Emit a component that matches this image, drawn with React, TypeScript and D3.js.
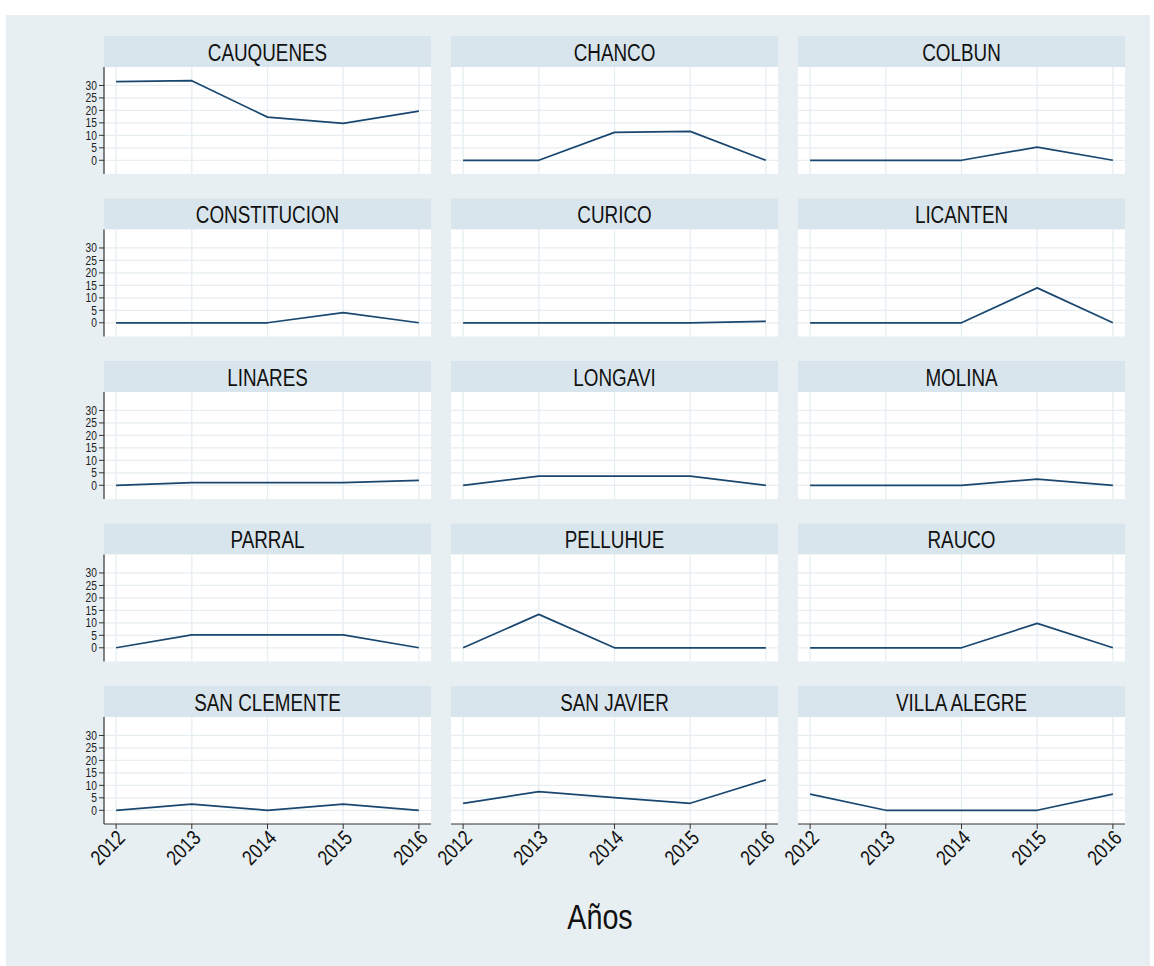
import React from "react";
import * as d3 from "d3";

const years = [2012, 2013, 2014, 2015, 2016];
const yTicks = [0, 5, 10, 15, 20, 25, 30];
const comunas = [
  "CAUQUENES", "CHANCO", "COLBUN",
  "CONSTITUCION", "CURICO", "LICANTEN",
  "LINARES", "LONGAVI", "MOLINA",
  "PARRAL", "PELLUHUE", "RAUCO",
  "SAN CLEMENTE", "SAN JAVIER", "VILLA ALEGRE",
];
const cauquenes = [31.5, 31.9, 17.3, 14.8, 19.7];
const chanco = [0, 0, 11.2, 11.6, 0];
const colbun = [0, 0, 0, 5.3, 0];
const constitucion = [0, 0, 0, 4.1, 0];
const curico = [0, 0, 0, 0, 0.6];
const licanten = [0, 0, 0, 14.0, 0];
const linares = [0, 1.1, 1.1, 1.1, 2.0];
const longavi = [0, 3.7, 3.7, 3.7, 0];
const molina = [0, 0, 0, 2.5, 0];
const parral = [0, 5.2, 5.2, 5.2, 0];
const pelluhue = [0, 13.4, 0, 0, 0];
const rauco = [0, 0, 0, 9.8, 0];
const sanClemente = [0, 2.5, 0, 2.5, 0];
const sanJavier = [2.8, 7.5, 5.1, 2.8, 12.2];
const villaAlegre = [6.5, 0, 0, 0, 6.5];
const seriesValues = [
  cauquenes, chanco, colbun,
  constitucion, curico, licanten,
  linares, longavi, molina,
  parral, pelluhue, rauco,
  sanClemente, sanJavier, villaAlegre,
];
const xTitle = "Años";

const W = 1154, H = 966;
const colX = [104, 451, 798];
const panelW = 327;
const rowTop0 = 36, rowPitch = 162.5, headH = 31, plotH = 107;
const FONT = "'Liberation Sans', Arial, sans-serif";
const NARROW = 0.82;
const BG = "#e8eff2";
const HEAD = "#d9e5ec";
const GRID = "#e6eef1";
const LINE = "#1a476f";

export default function App() {
  const panels = comunas.map((name, i) => {
    const c = i % 3, r = Math.floor(i / 3);
    const x0 = colX[c];
    const top = rowTop0 + rowPitch * r;
    const pTop = top + headH;
    const pBot = pTop + plotH;
    const x = d3.scaleLinear().domain([2011.84, 2016.16]).range([x0, x0 + panelW]);
    const y = d3.scaleLinear().domain([-5.5, 37.4]).range([pBot, pTop]);
    const line = d3.line<number>().x((_, j) => x(years[j])).y((v) => y(v));
    const vals = seriesValues[i];
    return (
      <g key={name}>
        <rect x={x0} y={top} width={panelW} height={headH} fill={HEAD} />
        <text transform={`translate(${x0 + panelW / 2},${top + 24.5}) scale(${NARROW},1)`} textAnchor="middle" fontSize={23} fontFamily={FONT} fill="#111">{name}</text>
        <rect x={x0} y={pTop} width={panelW} height={plotH} fill="#fff" />
        {yTicks.map((t) => (
          <line key={"h" + t} x1={x0} x2={x0 + panelW} y1={y(t)} y2={y(t)} stroke={GRID} strokeWidth={1.3} />
        ))}
        {years.map((yr) => (
          <line key={"v" + yr} x1={x(yr)} x2={x(yr)} y1={pTop} y2={pBot} stroke={GRID} strokeWidth={1.3} />
        ))}
        <path d={line(vals) || ""} fill="none" stroke={LINE} strokeWidth={1.7} strokeLinejoin="round" />
        {c === 0 && (
          <g>
            <line x1={x0} x2={x0} y1={pTop} y2={pBot} stroke="#333" strokeWidth={1.2} />
            {yTicks.map((t) => (
              <g key={"yt" + t}>
                <line x1={x0 - 5} x2={x0} y1={y(t)} y2={y(t)} stroke="#333" strokeWidth={1} />
                <text transform={`translate(${x0 - 7},${y(t)}) scale(${NARROW},1)`} dy="0.36em" textAnchor="end" fontSize={12.5} fontFamily={FONT} fill="#222">{t}</text>
              </g>
            ))}
          </g>
        )}
        {r === 4 && (
          <g>
            <line x1={x0} x2={x0 + panelW} y1={pBot} y2={pBot} stroke="#333" strokeWidth={1.2} />
            {years.map((yr) => (
              <g key={"xt" + yr}>
                <line x1={x(yr)} x2={x(yr)} y1={pBot} y2={pBot + 5} stroke="#333" strokeWidth={1} />
                <text transform={`translate(${x(yr) + 5},${pBot + 10}) rotate(-45) scale(${NARROW},1)`} textAnchor="end" dy="0.35em" fontSize={21} fontFamily={FONT} fill="#111">{yr}</text>
              </g>
            ))}
          </g>
        )}
      </g>
    );
  });
  return (
    <svg width={W} height={H} style={{ position: "absolute", left: 0, top: 0 }}>
      <rect x={0} y={0} width={W} height={H} fill="#fff" />
      <rect x={6} y={15} width={1144} height={H - 15} fill={BG} />
      {panels}
      <text transform={`translate(600,929) scale(${NARROW},1)`} textAnchor="middle" fontSize={35} fontFamily={FONT} fill="#111">{xTitle}</text>
    </svg>
  );
}
